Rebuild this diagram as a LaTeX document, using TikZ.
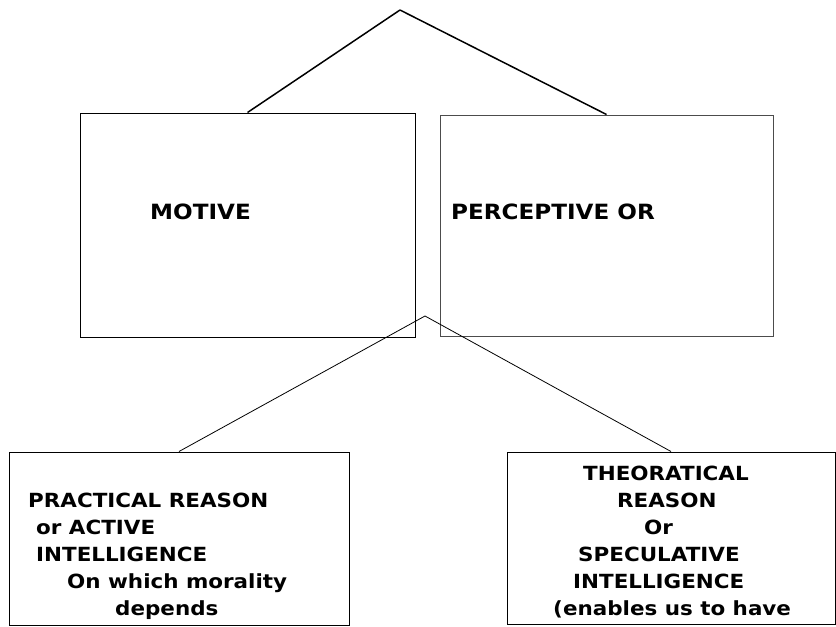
\documentclass[tikz,border=0pt]{standalone}
\usepackage{fontspec}
\setmainfont{DejaVu Sans}[FakeStretch=1.1]
\begin{document}
\begin{tikzpicture}[x=1pt,y=-1pt]

      \useasboundingbox (0,0) rectangle (836,627);

      \begin{scope}[every node/.style={draw,line width=1pt,inner sep=0pt}]
        \node[minimum width=335pt,minimum height=224pt] (motive) at (247.5,225) {};
        \node[draw=black!70,minimum width=333pt,minimum height=221pt] (perceptive) at (606.5,225.5) {};
        \node[minimum width=340pt,minimum height=173pt] (practical) at (179,538.5) {};
        \node[minimum width=328pt,minimum height=172pt] (theoretical) at (671,538) {};
      \end{scope}

      \coordinate (top) at (400,10);
      \coordinate (mid) at (425,316);

      % last baseline is the anchor of a multi-line node
      \begin{scope}[every node/.style={inner sep=0pt,anchor=base west,align=left}]
        \begin{scope}[font=\bfseries\fontsize{21}{27}\selectfont]
          \node (motivetext) at (150,219) {MOTIVE};
          \node (perceptivetext) at (451,219) {PERCEPTIVE OR};
        \end{scope}
        \begin{scope}[font=\bfseries\fontsize{19.5}{27}\selectfont]
          \node (practicaltext) at (28,615) {PRACTICAL REASON\\
            \hspace*{8pt}or ACTIVE\\
            \hspace*{8pt}INTELLIGENCE\\
            \hspace*{39pt}On which morality\\
            \hspace*{87pt}depends};
          \node (theoreticaltext) at (553,615) {\hspace*{30pt}THEORATICAL\\
            \hspace*{64pt}REASON\\
            \hspace*{91pt}Or\\
            \hspace*{25pt}SPECULATIVE\\
            \hspace*{20pt}INTELLIGENCE\\
            (enables us to have};
        \end{scope}
      \end{scope}

      \begin{scope}[every edge/.style={draw,line width=1.5pt}]
        \path (top)  edge (motive.north);
        \path (top)  edge (perceptive.north);
      \end{scope}

      \begin{scope}[every edge/.style={draw,line width=0.8pt}]
        \path (mid)  edge (practical.north);
        \path (mid)  edge (theoretical.north);
      \end{scope}

    \end{tikzpicture}
\end{document}
